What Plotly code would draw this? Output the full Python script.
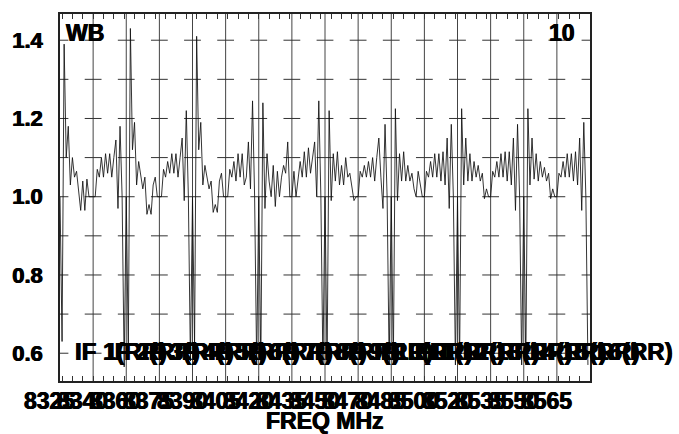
import plotly.graph_objects as go

# ---------------- data ----------------
IF_START_MHZ = [8324, 8340, 8356, 8372, 8388, 8404, 8420, 8436,
                8452, 8468, 8484, 8500, 8516, 8532, 8548, 8564]
CHAN_WIDTH_MHZ = 1.0
X_RANGE = [8324, 8580]
Y_RANGE = [0.529, 1.467]

IF1 = [1.0, 0.63, 1.39, 1.10, 1.18, 1.03, 1.10, 1.05, 1.065, 1.02, 0.965, 1.04, 0.965, 1.045, 1.0, 1.0]
IF2 = [1.0, 1.0, 1.07, 1.05, 1.10, 1.05, 1.11, 1.06, 1.11, 1.05, 1.10, 1.145, 0.97, 1.18, 1.0, 0.565]
IF3 = [1.0, 0.61, 1.43, 1.12, 1.19, 1.03, 1.09, 1.05, 1.02, 1.05, 0.955, 0.98, 0.955, 1.03, 1.05, 1.0]
IF4 = [1.0, 1.0, 1.07, 1.05, 1.09, 1.06, 1.11, 1.06, 1.11, 1.05, 1.10, 1.15, 0.99, 1.22, 1.0, 0.58]
IF5 = [1.0, 0.62, 1.41, 1.12, 1.19, 1.03, 1.08, 1.05, 1.02, 1.04, 0.96, 0.98, 0.96, 1.04, 1.06, 1.0]
IF6 = [1.0, 1.0, 1.07, 1.05, 1.09, 1.04, 1.11, 1.05, 1.11, 1.03, 1.05, 1.14, 1.02, 1.245, 1.0, 0.57]
IF7 = [1.0, 0.57, 1.24, 0.97, 1.11, 1.04, 1.0, 1.08, 0.975, 1.065, 1.0, 1.05, 1.08, 1.06, 1.14, 1.0]
IF8 = [1.0, 1.065, 1.0, 1.05, 1.09, 1.05, 1.115, 1.05, 1.125, 1.06, 1.10, 1.14, 1.0, 1.245, 1.0, 0.57]
IF9 = [1.0, 0.57, 1.22, 0.99, 1.11, 1.04, 1.115, 1.03, 1.08, 1.03, 1.10, 1.05, 1.06, 1.03, 0.99, 1.0]
IF10 = [1.0, 1.065, 1.05, 1.08, 1.05, 1.09, 1.05, 1.10, 1.04, 1.10, 1.15, 1.05, 0.97, 1.185, 1.0, 0.57]
IF11 = [1.0, 0.57, 1.225, 0.99, 1.11, 1.04, 1.115, 1.04, 1.08, 1.04, 1.06, 1.02, 1.0, 1.065, 1.03, 1.0]
IF12 = [1.0, 1.065, 1.05, 1.09, 1.05, 1.11, 1.05, 1.11, 1.04, 1.115, 1.03, 1.15, 0.97, 1.185, 1.0, 0.57]
IF13 = [1.0, 0.57, 1.225, 1.03, 1.15, 1.04, 1.11, 1.04, 1.09, 1.05, 1.08, 1.04, 1.06, 0.995, 1.02, 1.0]
IF14 = [1.0, 1.065, 1.05, 1.09, 1.05, 1.11, 1.05, 1.115, 1.04, 1.115, 1.03, 1.15, 0.965, 1.185, 1.0, 0.57]
IF15 = [1.0, 0.57, 1.225, 1.03, 1.15, 1.045, 1.11, 1.04, 1.09, 1.05, 1.075, 1.04, 1.06, 0.995, 1.02, 1.0]
IF16 = [1.0, 1.06, 1.05, 1.09, 1.05, 1.11, 1.05, 1.11, 1.04, 1.115, 1.03, 1.15, 0.965, 1.19, 1.0, 0.57]
SPECTRA = [IF1, IF2, IF3, IF4, IF5, IF6, IF7, IF8,
           IF9, IF10, IF11, IF12, IF13, IF14, IF15, IF16]

IF_LABELS = ["IF 1(RR)", "IF 2(RR)", "IF 3(RR)", "IF 4(RR)", "IF 5(RR)", "IF 6(RR)",
             "IF 7(RR)", "IF 8(RR)", "IF 9(RR)", "IF10(RR)", "IF11(RR)", "IF12(RR)",
             "IF13(RR)", "IF14(RR)", "IF15(RR)", "IF16(RR)"]
FREQ_LABELS = ["8325", "8340", "8360", "8375", "8390", "8405", "8420", "8435",
               "8450", "8470", "8485", "8500", "8520", "8535", "8550", "8565"]
Y_TICKS = [0.6, 0.8, 1.0, 1.2, 1.4]
Y_TICK_TEXT = ["0.6", "0.8", "1.0", "1.2", "1.4"]
CROSS_LEVELS = [0.6, 0.7, 0.8, 0.9, 1.0, 1.1, 1.2, 1.3, 1.4]
X_TITLE = "FREQ MHz"
TOP_LEFT = "WB"
TOP_RIGHT = "10"

# ---------------- build ----------------
FONT = "Arial, Liberation Sans, Helvetica, sans-serif"
HEAVY = "0.5px 0 0 black, -0.5px 0 0 black"


def tfont(size):
    return dict(family=FONT, size=size, color="black", weight=700, shadow=HEAVY)


xs, ys = [], []
for start, spec in zip(IF_START_MHZ, SPECTRA):
    for k, v in enumerate(spec):
        xs.append(start + k * CHAN_WIDTH_MHZ)
        ys.append(v)

fig = go.Figure()

# IF boundary lines
gx, gy = [], []
for b in IF_START_MHZ[1:]:
    gx += [b, b, None]
    gy += [Y_RANGE[0], Y_RANGE[1], None]
fig.add_trace(go.Scatter(x=gx, y=gy, mode="lines",
                         line=dict(color="#444444", width=1), hoverinfo="skip"))

# cross ticks on each boundary line (and axes edges)
cx, cy = [], []
for b in IF_START_MHZ + [X_RANGE[1]]:
    for lv in CROSS_LEVELS:
        cx.append(b)
        cy.append(lv)
fig.add_trace(go.Scatter(x=cx, y=cy, mode="markers", cliponaxis=True,
                         marker=dict(symbol="line-ew", size=12, color="#333333",
                                     line=dict(color="#333333", width=1)),
                         hoverinfo="skip"))

# spectrum
fig.add_trace(go.Scatter(x=xs, y=ys, mode="lines",
                         line=dict(color="#111111", width=0.85)))

PLOT_L, PLOT_R, PLOT_T, PLOT_B = 58, 590, 12, 381
PW = PLOT_R - PLOT_L
PH = PLOT_B - PLOT_T


def px_x(px):
    return (px - PLOT_L) / PW


def px_y(py):
    return (PLOT_B - py) / PH


ann = []
for i, t in enumerate(FREQ_LABELS):
    ann.append(dict(text=t, xref="paper", yref="paper", x=px_x(47.5 + 33.25 * i),
                    y=px_y(401.5), xanchor="center", yanchor="middle", showarrow=False,
                    font=tfont(23)))
for i, t in enumerate(IF_LABELS):
    ann.append(dict(text=t, xref="paper", yref="paper", x=px_x(71 + 33.4 * i),
                    y=px_y(351), xanchor="left", yanchor="middle", showarrow=False,
                    font=tfont(24)))
ann.append(dict(text=TOP_LEFT, xref="paper", yref="paper", x=px_x(62), y=px_y(31),
                xanchor="left", yanchor="middle", showarrow=False, font=tfont(23)))
ann.append(dict(text=TOP_RIGHT, xref="paper", yref="paper", x=px_x(577), y=px_y(31),
                xanchor="right", yanchor="middle", showarrow=False, font=tfont(23)))
ann.append(dict(text=X_TITLE, xref="paper", yref="paper", x=0.5, y=px_y(421),
                xanchor="center", yanchor="middle", showarrow=False, font=tfont(23)))

fig.update_layout(
    width=679, height=434,
    margin=dict(l=PLOT_L, r=679 - PLOT_R, t=PLOT_T, b=434 - PLOT_B, pad=0),
    paper_bgcolor="white", plot_bgcolor="white", showlegend=False,
    annotations=ann,
    xaxis=dict(range=X_RANGE, showgrid=False, zeroline=False,
               ticks="inside", tick0=8325, dtick=5, ticklen=5, tickwidth=1,
               tickcolor="#333333", showticklabels=False,
               showline=True, linecolor="#222222", linewidth=1.5, mirror="ticks"),
    yaxis=dict(range=Y_RANGE, showgrid=False, zeroline=False,
               tickmode="array", tickvals=Y_TICKS, ticktext=Y_TICK_TEXT,
               ticks="outside", ticklen=11, tickcolor="rgba(0,0,0,0)",
               showline=True, linecolor="#222222", linewidth=1.5, mirror=True,
               tickfont=tfont(22)),
)

fig.write_html("out.html", config={"displayModeBar": False},
               post_script="document.body.style.margin='0';document.body.style.overflow='hidden';")
